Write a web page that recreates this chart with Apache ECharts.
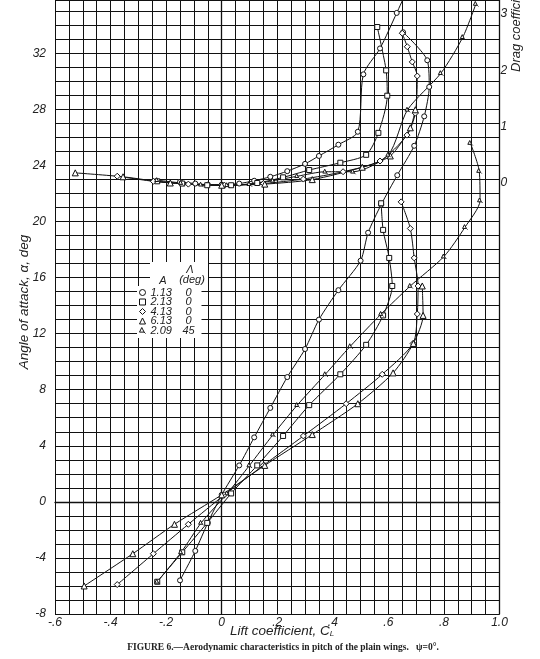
<!DOCTYPE html>
<html><head><meta charset="utf-8">
<script src="https://cdn.jsdelivr.net/npm/echarts@6/dist/echarts.min.js"></script>
<style>html,body{margin:0;padding:0;background:#fff}#c{width:540px;height:659px}</style>
</head><body><div id="c"></div>
<script>
// ---- Data ----
// A = 1.13, sweep 0 (circle)
const alpha113 = [-5.6,-3.5,-1.5,0.5,2.6,4.6,6.7,8.9,10.9,13.0,15.1,17.2,19.2,21.2,23.3,25.4,27.5,29.6,31.5,33.5];
const cl113    = [-0.15,-0.095,-0.05,0.0,0.063,0.117,0.175,0.236,0.30,0.35,0.42,0.50,0.527,0.574,0.632,0.693,0.729,0.747,0.74,0.653];
const dragCl113 = [-0.15,-0.095,-0.05,0.0,0.063,0.117,0.175,0.236,0.30,0.35,0.42,0.49,0.51,0.57,0.63,0.693];
const dragCd113 = [0.02,-0.01,-0.03,-0.03,-0.01,0.04,0.11,0.21,0.34,0.48,0.68,0.91,1.93,2.39,3.02,3.7];
// A = 2.13, sweep 0 (square)
const alpha213 = [-5.7,-3.6,-1.5,0.6,2.6,4.7,6.9,9.1,11.2,13.3,15.4,17.4,19.4,21.3];
const cl213    = [-0.232,-0.142,-0.052,0.034,0.128,0.221,0.315,0.427,0.52,0.581,0.614,0.603,0.581,0.574];
const dragCl213 = [-0.232,-0.142,-0.052,0.034,0.128,0.221,0.315,0.427,0.52,0.564,0.596,0.592,0.56];
const dragCd213 = [0.03,-0.01,-0.04,-0.04,0.0,0.1,0.23,0.36,0.5,0.89,1.55,2.0,2.77];
// A = 4.13, sweep 0 (diamond)
const alpha413 = [-5.9,-3.7,-1.6,0.5,2.6,4.7,7.0,9.1,11.3,13.4,15.4,17.4,19.5,21.4];
const cl413    = [-0.376,-0.246,-0.12,0.01,0.15,0.294,0.448,0.578,0.689,0.704,0.707,0.693,0.679,0.646];
const dragCl413 = [-0.376,-0.246,-0.12,0.01,0.15,0.294,0.437,0.57,0.667,0.697,0.704,0.686,0.668,0.65];
const dragCd413 = [0.12,0.03,-0.02,-0.04,-0.01,0.07,0.2,0.39,0.85,1.24,1.9,2.15,2.42,2.66];
// A = 6.13, sweep 0 (triangle)
const alpha613 = [-6.0,-3.7,-1.6,0.5,2.6,4.8,7.0,9.2,11.3,13.3,15.4];
const cl613    = [-0.495,-0.32,-0.17,0.0,0.155,0.326,0.49,0.617,0.69,0.725,0.722];
const dragCl613 = [-0.527,-0.355,-0.185,0.0,0.155,0.326,0.506,0.607,0.679,0.697];
const dragCd613 = [0.18,0.11,0.0,-0.04,-0.02,0.06,0.28,0.48,0.98,1.3];
// A = 2.09, sweep 45 (flagged triangle)
const alpha209 = [-5.7,-3.6,-1.5,0.6,2.6,4.8,6.9,9.1,11.1,13.4,15.4,17.5,19.6,21.5,23.6,25.6];
const cl209    = [-0.232,-0.146,-0.074,0.02,0.1,0.185,0.272,0.373,0.463,0.574,0.679,0.80,0.876,0.93,0.927,0.895];
const dragCl209 = [-0.232,-0.146,-0.074,0.02,0.1,0.185,0.272,0.373,0.473,0.6,0.669,0.789,0.868,0.915];
const dragCd209 = [0.05,0.0,-0.03,-0.04,-0.02,0.04,0.12,0.2,0.2,0.5,1.3,1.95,2.59,3.18];

const seriesNames  = ['1.13','2.13','4.13','6.13','2.09'];
const sweepLabels  = ['0','0','0','0','45'];
const xTickValues  = [-0.6,-0.4,-0.2,0,0.2,0.4,0.6,0.8,1.0];
const xTickLabels  = ['-.6','-.4','-.2','0','.2','.4','.6','.8','1.0'];
const yTickValues  = [-8,-4,0,4,8,12,16,20,24,28,32];
const yTickLabels  = ['-8','-4','0','4','8','12','16','20','24','28','32'];
const dragTickValues = [0,1,2,3];
const dragTickLabels = ['0','1','2','3'];

// ---- Chart ----
const FLAG = 'path://M0,10 L5,0 L10,10 Z M10,10 L13,13';
const symbols = {'1.13':'circle','2.13':'rect','4.13':'diamond','6.13':'triangle','2.09':FLAG};
const sizes   = {'1.13':5,'2.13':5,'4.13':6,'6.13':6,'2.09':5};
const pair = (xs, ys) => xs.map((x,i)=>[x, ys[i]]);
const lifts = {'1.13':[cl113,alpha113],'2.13':[cl213,alpha213],'4.13':[cl413,alpha413],'6.13':[cl613,alpha613],'2.09':[cl209,alpha209]};
const drags = {'1.13':[dragCl113,dragCd113],'2.13':[dragCl213,dragCd213],'4.13':[dragCl413,dragCd413],'6.13':[dragCl613,dragCd613],'2.09':[dragCl209,dragCd209]};

const ink = '#111';
const base = (name, data, yi) => ({
  name, type:'line', data, yAxisIndex: yi, smooth: 0.25, clip: true,
  symbol: symbols[name], symbolSize: sizes[name], showAllSymbol: true,
  lineStyle:{color:ink, width:1}, itemStyle:{color:'#fff', borderColor:ink, borderWidth:1},
  emphasis:{disabled:true}, z: 3
});
const series = [];
seriesNames.forEach(n => {
  series.push(base(n, pair(lifts[n][0], lifts[n][1]), 0));
  series.push(base(n, pair(drags[n][0], drags[n][1]), 1));
});

const near = (v, arr) => arr.findIndex(t => Math.abs(t - v) < 1e-6);
const tickFont = {fontFamily:'Liberation Sans', fontStyle:'italic', fontSize:12, color:'#222'};
const rt = {fontSize:11, fontStyle:'italic', fontFamily:'Liberation Sans', lineHeight:9.5, color:'#222'};

const chart = echarts.init(document.getElementById('c'), null, {renderer:'canvas'});
chart.setOption({
  animation: false,
  backgroundColor: '#fff',
  grid: {left:55, right:40.5, top:0, bottom:45, containLabel:false},
  xAxis: {
    type:'value', min:-0.6, max:1.0, interval:0.05,
    axisLine:{show:true, lineStyle:{color:ink, width:1.3}}, axisTick:{show:false},
    splitLine:{show:true, lineStyle:{color:ink, width:1}},
    axisLabel:Object.assign({margin:3, formatter: v => { const i = near(v, xTickValues); return i < 0 ? '' : xTickLabels[i]; }}, tickFont)
  },
  yAxis: [{
    type:'value', min:-8, max:35.8, interval:1,
    axisLine:{show:true, lineStyle:{color:ink, width:1.3}}, axisTick:{show:false},
    splitLine:{show:true, lineStyle:{color:ink, width:1}},
    axisLabel:Object.assign({margin:9, formatter: v => { const i = near(v, yTickValues); return i < 0 ? '' : yTickLabels[i]; }}, tickFont)
  },{
    type:'value', position:'right', min:-7.655, max:3.25,
    axisLine:{show:true, lineStyle:{color:ink, width:1.3}}, axisTick:{show:false},
    splitLine:{show:false},
    axisLabel:Object.assign({margin:1, customValues: dragTickValues, formatter: v => { const i = near(v, dragTickValues); return i < 0 ? '' : dragTickLabels[i]; }}, tickFont)
  }],
  legend: {
    orient:'vertical', left:137, top:286, itemWidth:6, itemHeight:6, itemGap:-1.5,
    backgroundColor:'#fff', padding:[1,5,2,2], selectedMode:false,
    data: seriesNames.map(n => ({name:n, icon: symbols[n]})),
    itemStyle:{color:'#fff', borderColor:ink, borderWidth:1},
    formatter: name => '{a|' + name + '}{b|' + sweepLabels[seriesNames.indexOf(name)] + '}',
    textStyle:Object.assign({rich:{a:Object.assign({width:30}, rt), b:Object.assign({width:16, align:'center'}, rt)}}, rt)
  },
  graphic: [
    {type:'rect', left:150, top:262, shape:{width:58, height:25}, style:{fill:'#fff'}, z:50},
    {type:'text', x:163, y:281, style:{text:'A', font:'italic 11px Liberation Sans', fill:'#222', align:'center', verticalAlign:'middle'}, z:51},
    {type:'text', x:190, y:270, style:{text:'Λ', font:'italic 11px Liberation Sans', fill:'#222', align:'center', verticalAlign:'middle'}, z:51},
    {type:'text', x:192, y:280, style:{text:'(deg)', font:'italic 11px Liberation Sans', fill:'#222', align:'center', verticalAlign:'middle'}, z:51},
    {type:'text', x:24, y:302, rotation:Math.PI/2, style:{text:'Angle of attack, α, deg', font:'italic 13.5px Liberation Sans', fill:'#222', align:'center', verticalAlign:'middle'}, z:51},
    {type:'text', x:516, y:72, rotation:Math.PI/2, style:{text:'Drag coefficient, C', font:'italic 13px Liberation Sans', fill:'#222', align:'left', verticalAlign:'middle'}, z:51},
    {type:'text', x:282, y:631, style:{text:'Lift coefficient, C{s|L}', font:'italic 13.5px Liberation Sans', fill:'#222', align:'center', verticalAlign:'middle',
      rich:{s:{fontSize:8, fontStyle:'italic', fontFamily:'Liberation Sans', verticalAlign:'bottom', padding:[6,0,0,0]}}}, z:51},
    {type:'text', x:283, y:648, style:{text:'FIGURE 6.—Aerodynamic characteristics in pitch of the plain wings.   ψ=0°.', font:'bold 9.5px Liberation Serif', fill:'#222', align:'center', verticalAlign:'middle'}, z:51}
  ],
  series
});
</script></body></html>
